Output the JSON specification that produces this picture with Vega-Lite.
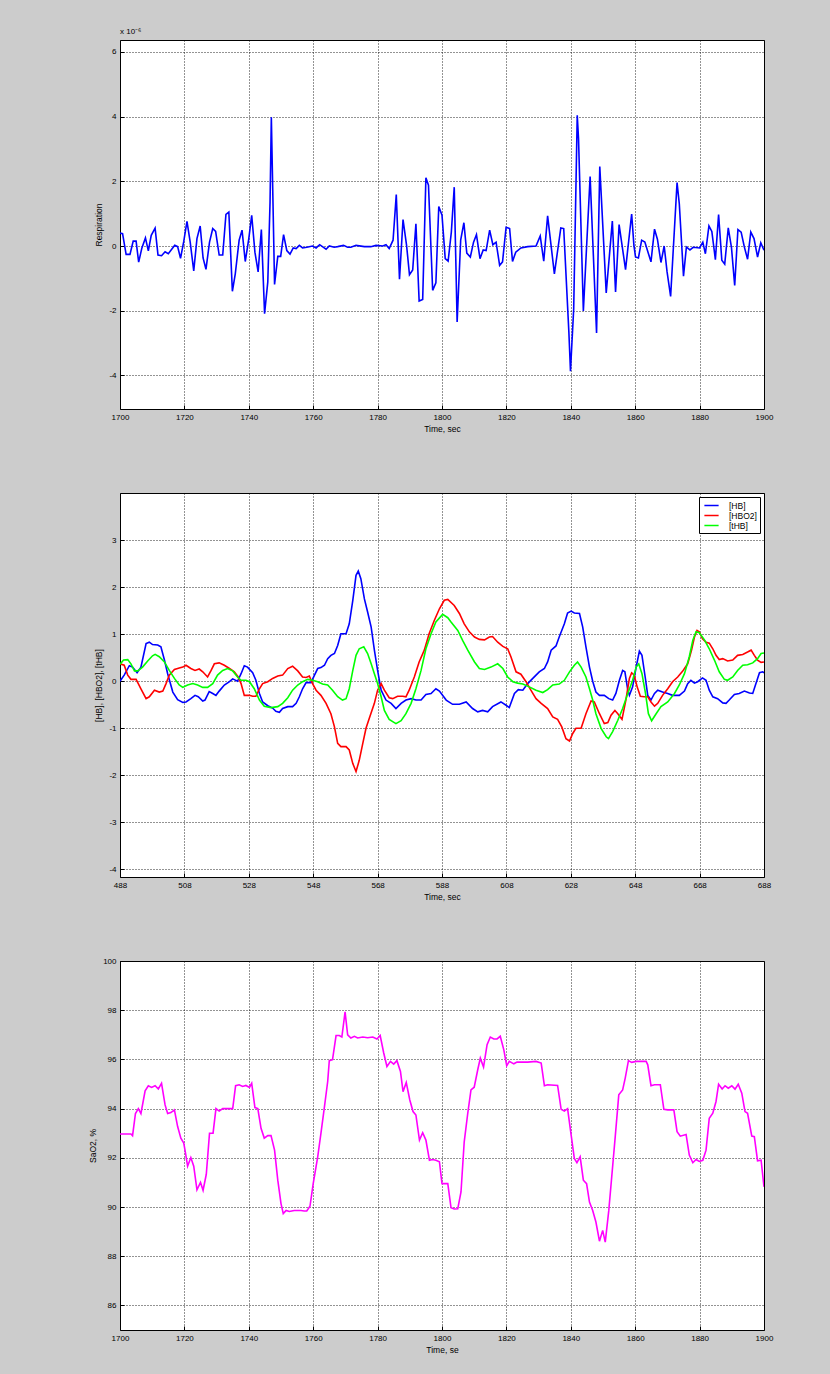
{
"$schema": "https://vega.github.io/schema/vega-lite/v6.json",
"background": "#cccccc",
"padding": {"left": 88, "top": 27, "right": 58, "bottom": 22},
"bounds": "flush",
"spacing": 84,
"resolve": {"scale": {"color": "independent"}, "legend": {"color": "independent"}},
"config": {
  "font": "Liberation Sans",
  "view": {"stroke": "#000000", "strokeWidth": 1, "fill": "#ffffff"},
  "axis": {"labelFont": "Liberation Sans", "labelFontSize": 8, "labelColor": "#000000", "titleFont": "Liberation Sans", "titleFontSize": 8.5, "titleFontWeight": "normal", "titleColor": "#000000", "grid": true, "gridColor": "#000000", "gridDash": [1, 2], "gridOpacity": 0.85, "domain": false, "ticks": true, "tickSize": -4, "tickColor": "#000000", "labelPadding": 8},
  "axisX": {"labelFlush": false, "titlePadding": 3},
  "axisY": {"titlePadding": 5},
  "legend": {"orient": "top-right", "offset": 4, "padding": 3, "strokeColor": "#000000", "fillColor": "#ffffff", "labelFont": "Liberation Sans", "labelFontSize": 8.5, "labelColor": "#000000", "symbolType": "M-1.5,0H1.5", "symbolSize": 90, "symbolStrokeWidth": 1.5, "symbolOffset": 4, "rowPadding": 0, "labelOffset": 12},
  "title": {"anchor": "start", "frame": "group", "fontSize": 8, "fontWeight": "normal", "font": "Liberation Sans", "color": "#000000", "offset": 4}
},
"datasets": {
  "resp": [
{"t":1700,"r":0.40},{"t":1700.8,"r":0.38},{"t":1701.9,"r":-0.26},{"t":1703.1,"r":-0.26},{"t":1704.1,"r":0.15},{"t":1705,"r":0.15},{"t":1705.8,"r":-0.5},{"t":1706.8,"r":-0.06},{"t":1707.9,"r":0.25},{"t":1708.8,"r":-0.15},{"t":1709.7,"r":0.33},{"t":1710.9,"r":0.55},{"t":1711.8,"r":-0.28},{"t":1712.9,"r":-0.3},{"t":1714,"r":-0.18},{"t":1715,"r":-0.24},{"t":1716,"r":-0.11},{"t":1717,"r":0.02},{"t":1717.9,"r":-0.02},{"t":1718.8,"r":-0.38},{"t":1719.8,"r":0.14},{"t":1720.8,"r":0.76},{"t":1721.8,"r":0.12},{"t":1722.9,"r":-0.77},{"t":1723.9,"r":0.23},{"t":1724.9,"r":0.62},{"t":1725.8,"r":-0.37},{"t":1726.7,"r":-0.72},{"t":1727.8,"r":0.12},{"t":1728.8,"r":0.54},{"t":1729.7,"r":0.45},{"t":1730.8,"r":-0.28},{"t":1731.9,"r":-0.28},{"t":1732.9,"r":0.98},{"t":1733.8,"r":1.05},{"t":1734.9,"r":-1.40},{"t":1735.8,"r":-0.86},{"t":1737,"r":0.18},{"t":1737.9,"r":0.49},{"t":1738.9,"r":-0.48},{"t":1740,"r":0.23},{"t":1740.9,"r":0.95},{"t":1741.9,"r":-0.19},{"t":1742.9,"r":-0.80},{"t":1743.9,"r":0.51},{"t":1744.9,"r":-2.09},{"t":1745.9,"r":-1.11},{"t":1746.6,"r":1.36},{"t":1747,"r":3.98},{"t":1748,"r":-1.19},{"t":1749,"r":-0.32},{"t":1749.9,"r":-0.32},{"t":1750.8,"r":0.35},{"t":1751.8,"r":-0.14},{"t":1752.8,"r":-0.25},{"t":1753.8,"r":-0.06},{"t":1754.7,"r":-0.08},{"t":1755.7,"r":0.02},{"t":1756.7,"r":-0.06},{"t":1758,"r":-0.04},{"t":1759.8,"r":0},{"t":1760.9,"r":-0.06},{"t":1762,"r":0.04},{"t":1764,"r":-0.10},{"t":1765,"r":0},{"t":1766.5,"r":-0.04},{"t":1767.6,"r":-0.02},{"t":1769.4,"r":0.02},{"t":1770.7,"r":-0.04},{"t":1771.7,"r":-0.04},{"t":1773.3,"r":0.02},{"t":1775.9,"r":-0.02},{"t":1777.9,"r":-0.02},{"t":1779.5,"r":0.02},{"t":1781.6,"r":0},{"t":1782.6,"r":0.04},{"t":1783.6,"r":-0.08},{"t":1784.8,"r":0.18},{"t":1785.8,"r":1.59},{"t":1786.8,"r":-1.03},{"t":1787.9,"r":0.82},{"t":1789,"r":0.02},{"t":1789.9,"r":-0.89},{"t":1790.9,"r":-0.74},{"t":1791.9,"r":0.69},{"t":1792.9,"r":-1.70},{"t":1794,"r":-1.65},{"t":1795,"r":2.11},{"t":1795.8,"r":1.88},{"t":1797.1,"r":-1.37},{"t":1798.1,"r":-1.14},{"t":1799,"r":1.22},{"t":1800,"r":0.95},{"t":1801,"r":-0.39},{"t":1801.9,"r":-0.47},{"t":1802.9,"r":0.43},{"t":1803.8,"r":1.82},{"t":1804.7,"r":-2.35},{"t":1805.8,"r":0.18},{"t":1806.8,"r":0.72},{"t":1807.7,"r":-0.22},{"t":1808.8,"r":-0.34},{"t":1809.8,"r":0.12},{"t":1810.7,"r":0.35},{"t":1811.8,"r":-0.39},{"t":1812.8,"r":-0.12},{"t":1813.7,"r":-0.14},{"t":1814.8,"r":0.49},{"t":1815.8,"r":0.04},{"t":1816.8,"r":0.12},{"t":1817.9,"r":-0.60},{"t":1818.8,"r":-0.49},{"t":1819.9,"r":0.58},{"t":1821,"r":0.54},{"t":1821.9,"r":-0.48},{"t":1822.9,"r":-0.19},{"t":1824.5,"r":-0.06},{"t":1826.6,"r":-0.02},{"t":1829.2,"r":0},{"t":1830.5,"r":0.31},{"t":1831.6,"r":-0.47},{"t":1832.8,"r":0.93},{"t":1834.9,"r":-0.86},{"t":1836.9,"r":0.56},{"t":1837.8,"r":0.54},{"t":1839.4,"r":-2.66},{"t":1839.9,"r":-3.87},{"t":1840.9,"r":-1.94},{"t":1842.0,"r":4.04},{"t":1842.4,"r":3.32},{"t":1843.9,"r":-2.01},{"t":1846.0,"r":2.15},{"t":1848.0,"r":-2.69},{"t":1849.0,"r":2.46},{"t":1851.0,"r":-1.45},{"t":1852.9,"r":0.77},{"t":1853.9,"r":-1.42},{"t":1855.0,"r":0.66},{"t":1857.0,"r":-0.73},{"t":1858.9,"r":0.99},{"t":1859.6,"r":0.02},{"t":1860.1,"r":-0.34},{"t":1861.0,"r":-0.37},{"t":1862.0,"r":0.18},{"t":1863.0,"r":0.12},{"t":1864.9,"r":-0.49},{"t":1866.0,"r":0.52},{"t":1866.9,"r":0.21},{"t":1868.0,"r":-0.51},{"t":1869.0,"r":0},{"t":1869.9,"r":-0.8},{"t":1871.0,"r":-1.56},{"t":1873.0,"r":1.96},{"t":1873.7,"r":1.3},{"t":1875.0,"r":-0.93},{"t":1875.9,"r":-0.03},{"t":1877.0,"r":-0.12},{"t":1878.0,"r":-0.04},{"t":1880.0,"r":-0.06},{"t":1881.0,"r":0.12},{"t":1881.8,"r":-0.24},{"t":1882.9,"r":0.62},{"t":1883.8,"r":0.45},{"t":1884.9,"r":-0.42},{"t":1885.9,"r":0.97},{"t":1886.9,"r":-0.44},{"t":1887.8,"r":-0.56},{"t":1888.9,"r":0.56},{"t":1889.9,"r":-0.05},{"t":1890.9,"r":-1.22},{"t":1891.9,"r":0.51},{"t":1892.9,"r":0.43},{"t":1893.9,"r":-0.03},{"t":1894.9,"r":-0.41},{"t":1895.9,"r":0.43},{"t":1896.9,"r":0.23},{"t":1898.0,"r":-0.34},{"t":1899.0,"r":0.1},{"t":1900.0,"r":-0.13}
  ],
  "hb": [
{"t":488,"v":0,"s":"[HB]"},{"t":489.3,"v":0.13,"s":"[HB]"},{"t":490.9,"v":0.33,"s":"[HB]"},{"t":491.9,"v":0.30,"s":"[HB]"},{"t":493.3,"v":0.18,"s":"[HB]"},{"t":494.5,"v":0.30,"s":"[HB]"},{"t":496.1,"v":0.80,"s":"[HB]"},{"t":497.1,"v":0.83,"s":"[HB]"},{"t":498.1,"v":0.78,"s":"[HB]"},{"t":499.7,"v":0.77,"s":"[HB]"},{"t":500.7,"v":0.73,"s":"[HB]"},{"t":501.8,"v":0.45,"s":"[HB]"},{"t":502.8,"v":0.16,"s":"[HB]"},{"t":504.4,"v":-0.23,"s":"[HB]"},{"t":505.9,"v":-0.39,"s":"[HB]"},{"t":507.5,"v":-0.45,"s":"[HB]"},{"t":508.5,"v":-0.44,"s":"[HB]"},{"t":510,"v":-0.37,"s":"[HB]"},{"t":511.3,"v":-0.30,"s":"[HB]"},{"t":512.3,"v":-0.33,"s":"[HB]"},{"t":513.7,"v":-0.42,"s":"[HB]"},{"t":514.4,"v":-0.40,"s":"[HB]"},{"t":515.7,"v":-0.22,"s":"[HB]"},{"t":516.8,"v":-0.26,"s":"[HB]"},{"t":517.8,"v":-0.30,"s":"[HB]"},{"t":518.8,"v":-0.21,"s":"[HB]"},{"t":520.4,"v":-0.08,"s":"[HB]"},{"t":522,"v":-0.01,"s":"[HB]"},{"t":523,"v":0.05,"s":"[HB]"},{"t":524.5,"v":0,"s":"[HB]"},{"t":525.6,"v":0.16,"s":"[HB]"},{"t":526.6,"v":0.33,"s":"[HB]"},{"t":527.6,"v":0.30,"s":"[HB]"},{"t":529.2,"v":0.18,"s":"[HB]"},{"t":530.2,"v":0.02,"s":"[HB]"},{"t":531.3,"v":-0.26,"s":"[HB]"},{"t":532.3,"v":-0.44,"s":"[HB]"},{"t":533.9,"v":-0.52,"s":"[HB]"},{"t":535.4,"v":-0.57,"s":"[HB]"},{"t":536.4,"v":-0.64,"s":"[HB]"},{"t":537.5,"v":-0.66,"s":"[HB]"},{"t":538.5,"v":-0.58,"s":"[HB]"},{"t":540.1,"v":-0.54,"s":"[HB]"},{"t":541.6,"v":-0.54,"s":"[HB]"},{"t":542.7,"v":-0.47,"s":"[HB]"},{"t":543.7,"v":-0.33,"s":"[HB]"},{"t":544.7,"v":-0.16,"s":"[HB]"},{"t":545.8,"v":-0.03,"s":"[HB]"},{"t":547.3,"v":-0.03,"s":"[HB]"},{"t":548.4,"v":0.13,"s":"[HB]"},{"t":549.4,"v":0.27,"s":"[HB]"},{"t":550.4,"v":0.29,"s":"[HB]"},{"t":551.5,"v":0.34,"s":"[HB]"},{"t":552.5,"v":0.48,"s":"[HB]"},{"t":553.5,"v":0.55,"s":"[HB]"},{"t":554.6,"v":0.59,"s":"[HB]"},{"t":555.6,"v":0.76,"s":"[HB]"},{"t":556.6,"v":1.01,"s":"[HB]"},{"t":558.2,"v":1.01,"s":"[HB]"},{"t":559.2,"v":1.22,"s":"[HB]"},{"t":560.3,"v":1.72,"s":"[HB]"},{"t":561.3,"v":2.25,"s":"[HB]"},{"t":562,"v":2.34,"s":"[HB]"},{"t":562.8,"v":2.18,"s":"[HB]"},{"t":563.9,"v":1.75,"s":"[HB]"},{"t":564.9,"v":1.47,"s":"[HB]"},{"t":566,"v":1.15,"s":"[HB]"},{"t":567,"v":0.66,"s":"[HB]"},{"t":568,"v":0.23,"s":"[HB]"},{"t":569.1,"v":-0.19,"s":"[HB]"},{"t":570.6,"v":-0.40,"s":"[HB]"},{"t":572.2,"v":-0.47,"s":"[HB]"},{"t":573.7,"v":-0.58,"s":"[HB]"},{"t":575.3,"v":-0.47,"s":"[HB]"},{"t":576.8,"v":-0.40,"s":"[HB]"},{"t":578.4,"v":-0.37,"s":"[HB]"},{"t":579.9,"v":-0.40,"s":"[HB]"},{"t":581.5,"v":-0.40,"s":"[HB]"},{"t":583,"v":-0.28,"s":"[HB]"},{"t":584.6,"v":-0.26,"s":"[HB]"},{"t":586.1,"v":-0.16,"s":"[HB]"},{"t":587.2,"v":-0.21,"s":"[HB]"},{"t":589.3,"v":-0.40,"s":"[HB]"},{"t":591.3,"v":-0.49,"s":"[HB]"},{"t":593.4,"v":-0.49,"s":"[HB]"},{"t":595.5,"v":-0.44,"s":"[HB]"},{"t":597.5,"v":-0.58,"s":"[HB]"},{"t":599.1,"v":-0.65,"s":"[HB]"},{"t":600.6,"v":-0.62,"s":"[HB]"},{"t":602.2,"v":-0.65,"s":"[HB]"},{"t":603.7,"v":-0.54,"s":"[HB]"},{"t":606.3,"v":-0.44,"s":"[HB]"},{"t":607.9,"v":-0.51,"s":"[HB]"},{"t":608.9,"v":-0.56,"s":"[HB]"},{"t":610.5,"v":-0.26,"s":"[HB]"},{"t":611.7,"v":-0.18,"s":"[HB]"},{"t":613.1,"v":-0.19,"s":"[HB]"},{"t":614.6,"v":-0.05,"s":"[HB]"},{"t":616.2,"v":0.06,"s":"[HB]"},{"t":618.2,"v":0.20,"s":"[HB]"},{"t":619.8,"v":0.27,"s":"[HB]"},{"t":620.8,"v":0.41,"s":"[HB]"},{"t":621.9,"v":0.66,"s":"[HB]"},{"t":623.4,"v":0.75,"s":"[HB]"},{"t":624.4,"v":0.94,"s":"[HB]"},{"t":626,"v":1.22,"s":"[HB]"},{"t":627,"v":1.45,"s":"[HB]"},{"t":628.1,"v":1.49,"s":"[HB]"},{"t":629.1,"v":1.45,"s":"[HB]"},{"t":630.7,"v":1.44,"s":"[HB]"},{"t":631.7,"v":1.15,"s":"[HB]"},{"t":632.7,"v":0.73,"s":"[HB]"},{"t":633.8,"v":0.30,"s":"[HB]"},{"t":634.8,"v":0,"s":"[HB]"},{"t":635.8,"v":-0.23,"s":"[HB]"},{"t":636.9,"v":-0.30,"s":"[HB]"},{"t":638.4,"v":-0.30,"s":"[HB]"},{"t":639.8,"v":-0.37,"s":"[HB]"},{"t":641,"v":-0.40,"s":"[HB]"},{"t":642,"v":-0.26,"s":"[HB]"},{"t":643.1,"v":0.02,"s":"[HB]"},{"t":644.1,"v":0.23,"s":"[HB]"},{"t":644.8,"v":0.20,"s":"[HB]"},{"t":645.7,"v":-0.19,"s":"[HB]"},{"t":646.2,"v":-0.30,"s":"[HB]"},{"t":647.2,"v":-0.12,"s":"[HB]"},{"t":648.3,"v":0.30,"s":"[HB]"},{"t":649.3,"v":0.64,"s":"[HB]"},{"t":650.1,"v":0.55,"s":"[HB]"},{"t":651.1,"v":0.09,"s":"[HB]"},{"t":651.9,"v":-0.30,"s":"[HB]"},{"t":652.9,"v":-0.40,"s":"[HB]"},{"t":654,"v":-0.26,"s":"[HB]"},{"t":655,"v":-0.19,"s":"[HB]"},{"t":656.5,"v":-0.23,"s":"[HB]"},{"t":658.1,"v":-0.26,"s":"[HB]"},{"t":659.6,"v":-0.30,"s":"[HB]"},{"t":661.7,"v":-0.30,"s":"[HB]"},{"t":663.3,"v":-0.21,"s":"[HB]"},{"t":664.3,"v":-0.05,"s":"[HB]"},{"t":665.3,"v":0.02,"s":"[HB]"},{"t":666.4,"v":-0.04,"s":"[HB]"},{"t":667.4,"v":-0.01,"s":"[HB]"},{"t":668.9,"v":0.07,"s":"[HB]"},{"t":670,"v":0.02,"s":"[HB]"},{"t":671,"v":-0.19,"s":"[HB]"},{"t":672.1,"v":-0.33,"s":"[HB]"},{"t":673.6,"v":-0.37,"s":"[HB]"},{"t":675.2,"v":-0.46,"s":"[HB]"},{"t":676.2,"v":-0.47,"s":"[HB]"},{"t":677.2,"v":-0.40,"s":"[HB]"},{"t":678.8,"v":-0.28,"s":"[HB]"},{"t":680.3,"v":-0.26,"s":"[HB]"},{"t":681.9,"v":-0.21,"s":"[HB]"},{"t":683.5,"v":-0.25,"s":"[HB]"},{"t":684.5,"v":-0.26,"s":"[HB]"},{"t":685.5,"v":-0.05,"s":"[HB]"},{"t":686.6,"v":0.18,"s":"[HB]"},{"t":687.6,"v":0.20,"s":"[HB]"},{"t":688,"v":0.18,"s":"[HB]"},
{"t":488,"v":0.37,"s":"[HBO2]"},{"t":489.3,"v":0.34,"s":"[HBO2]"},{"t":490.4,"v":0.13,"s":"[HBO2]"},{"t":491.4,"v":0.04,"s":"[HBO2]"},{"t":493,"v":0.04,"s":"[HBO2]"},{"t":494.5,"v":-0.16,"s":"[HBO2]"},{"t":496.1,"v":-0.37,"s":"[HBO2]"},{"t":497.1,"v":-0.33,"s":"[HBO2]"},{"t":498.7,"v":-0.19,"s":"[HBO2]"},{"t":500.2,"v":-0.23,"s":"[HBO2]"},{"t":501.3,"v":-0.21,"s":"[HBO2]"},{"t":502.3,"v":-0.05,"s":"[HBO2]"},{"t":503.3,"v":0.13,"s":"[HBO2]"},{"t":504.9,"v":0.25,"s":"[HBO2]"},{"t":506.4,"v":0.28,"s":"[HBO2]"},{"t":507.5,"v":0.30,"s":"[HBO2]"},{"t":508.5,"v":0.34,"s":"[HBO2]"},{"t":510,"v":0.27,"s":"[HBO2]"},{"t":511.3,"v":0.23,"s":"[HBO2]"},{"t":512.6,"v":0.26,"s":"[HBO2]"},{"t":513.7,"v":0.20,"s":"[HBO2]"},{"t":515.2,"v":0.09,"s":"[HBO2]"},{"t":516.3,"v":0.23,"s":"[HBO2]"},{"t":517.3,"v":0.37,"s":"[HBO2]"},{"t":518.8,"v":0.39,"s":"[HBO2]"},{"t":520.4,"v":0.34,"s":"[HBO2]"},{"t":522,"v":0.27,"s":"[HBO2]"},{"t":523.5,"v":0.20,"s":"[HBO2]"},{"t":524.7,"v":0.09,"s":"[HBO2]"},{"t":525.6,"v":-0.05,"s":"[HBO2]"},{"t":526.6,"v":-0.30,"s":"[HBO2]"},{"t":528.2,"v":-0.30,"s":"[HBO2]"},{"t":529.2,"v":-0.32,"s":"[HBO2]"},{"t":530.2,"v":-0.32,"s":"[HBO2]"},{"t":531.3,"v":-0.16,"s":"[HBO2]"},{"t":532.3,"v":-0.05,"s":"[HBO2]"},{"t":533.9,"v":-0.01,"s":"[HBO2]"},{"t":535.4,"v":0.06,"s":"[HBO2]"},{"t":537,"v":0.11,"s":"[HBO2]"},{"t":538.5,"v":0.13,"s":"[HBO2]"},{"t":540.1,"v":0.27,"s":"[HBO2]"},{"t":541.6,"v":0.32,"s":"[HBO2]"},{"t":543.2,"v":0.22,"s":"[HBO2]"},{"t":544.7,"v":0.09,"s":"[HBO2]"},{"t":545.8,"v":0.08,"s":"[HBO2]"},{"t":546.8,"v":0.11,"s":"[HBO2]"},{"t":547.8,"v":-0.05,"s":"[HBO2]"},{"t":548.9,"v":-0.19,"s":"[HBO2]"},{"t":550.4,"v":-0.30,"s":"[HBO2]"},{"t":552,"v":-0.47,"s":"[HBO2]"},{"t":553.5,"v":-0.69,"s":"[HBO2]"},{"t":554.6,"v":-0.97,"s":"[HBO2]"},{"t":555.6,"v":-1.32,"s":"[HBO2]"},{"t":556.6,"v":-1.39,"s":"[HBO2]"},{"t":558.2,"v":-1.39,"s":"[HBO2]"},{"t":559.2,"v":-1.46,"s":"[HBO2]"},{"t":560.3,"v":-1.75,"s":"[HBO2]"},{"t":561.3,"v":-1.92,"s":"[HBO2]"},{"t":562.3,"v":-1.68,"s":"[HBO2]"},{"t":563.4,"v":-1.32,"s":"[HBO2]"},{"t":564.4,"v":-1.00,"s":"[HBO2]"},{"t":565.4,"v":-0.79,"s":"[HBO2]"},{"t":567,"v":-0.47,"s":"[HBO2]"},{"t":568,"v":-0.19,"s":"[HBO2]"},{"t":569.1,"v":-0.05,"s":"[HBO2]"},{"t":570.1,"v":-0.19,"s":"[HBO2]"},{"t":571.6,"v":-0.35,"s":"[HBO2]"},{"t":572.7,"v":-0.37,"s":"[HBO2]"},{"t":574.2,"v":-0.32,"s":"[HBO2]"},{"t":575.8,"v":-0.32,"s":"[HBO2]"},{"t":576.8,"v":-0.33,"s":"[HBO2]"},{"t":577.8,"v":-0.19,"s":"[HBO2]"},{"t":579.4,"v":0.09,"s":"[HBO2]"},{"t":580.9,"v":0.41,"s":"[HBO2]"},{"t":582.5,"v":0.66,"s":"[HBO2]"},{"t":584,"v":1.01,"s":"[HBO2]"},{"t":585.6,"v":1.29,"s":"[HBO2]"},{"t":587.2,"v":1.54,"s":"[HBO2]"},{"t":588.7,"v":1.72,"s":"[HBO2]"},{"t":589.8,"v":1.74,"s":"[HBO2]"},{"t":591.8,"v":1.61,"s":"[HBO2]"},{"t":593.4,"v":1.44,"s":"[HBO2]"},{"t":594.9,"v":1.22,"s":"[HBO2]"},{"t":596.5,"v":1.05,"s":"[HBO2]"},{"t":598.1,"v":0.94,"s":"[HBO2]"},{"t":599.6,"v":0.89,"s":"[HBO2]"},{"t":601.2,"v":0.88,"s":"[HBO2]"},{"t":602.7,"v":0.94,"s":"[HBO2]"},{"t":603.7,"v":0.95,"s":"[HBO2]"},{"t":605.3,"v":0.83,"s":"[HBO2]"},{"t":606.9,"v":0.74,"s":"[HBO2]"},{"t":608.4,"v":0.69,"s":"[HBO2]"},{"t":609.4,"v":0.52,"s":"[HBO2]"},{"t":611,"v":0.20,"s":"[HBO2]"},{"t":612.5,"v":0.15,"s":"[HBO2]"},{"t":614.1,"v":-0.01,"s":"[HBO2]"},{"t":615.6,"v":-0.19,"s":"[HBO2]"},{"t":617.2,"v":-0.37,"s":"[HBO2]"},{"t":618.8,"v":-0.47,"s":"[HBO2]"},{"t":620.8,"v":-0.58,"s":"[HBO2]"},{"t":622.4,"v":-0.76,"s":"[HBO2]"},{"t":623.9,"v":-0.81,"s":"[HBO2]"},{"t":625.2,"v":-0.97,"s":"[HBO2]"},{"t":626.5,"v":-1.22,"s":"[HBO2]"},{"t":627.6,"v":-1.27,"s":"[HBO2]"},{"t":628.6,"v":-1.11,"s":"[HBO2]"},{"t":629.6,"v":-1.00,"s":"[HBO2]"},{"t":631.2,"v":-1.00,"s":"[HBO2]"},{"t":632.7,"v":-0.69,"s":"[HBO2]"},{"t":634.3,"v":-0.42,"s":"[HBO2]"},{"t":635.3,"v":-0.44,"s":"[HBO2]"},{"t":636.9,"v":-0.69,"s":"[HBO2]"},{"t":638.4,"v":-0.90,"s":"[HBO2]"},{"t":639.5,"v":-0.88,"s":"[HBO2]"},{"t":640.5,"v":-0.72,"s":"[HBO2]"},{"t":641.7,"v":-0.62,"s":"[HBO2]"},{"t":642.6,"v":-0.69,"s":"[HBO2]"},{"t":643.9,"v":-0.81,"s":"[HBO2]"},{"t":645.1,"v":-0.40,"s":"[HBO2]"},{"t":646.2,"v":0.06,"s":"[HBO2]"},{"t":646.9,"v":0.18,"s":"[HBO2]"},{"t":647.7,"v":0.13,"s":"[HBO2]"},{"t":648.6,"v":-0.12,"s":"[HBO2]"},{"t":649.6,"v":-0.32,"s":"[HBO2]"},{"t":650.8,"v":-0.33,"s":"[HBO2]"},{"t":651.9,"v":-0.33,"s":"[HBO2]"},{"t":652.9,"v":-0.44,"s":"[HBO2]"},{"t":654,"v":-0.53,"s":"[HBO2]"},{"t":655,"v":-0.47,"s":"[HBO2]"},{"t":656.5,"v":-0.30,"s":"[HBO2]"},{"t":658.1,"v":-0.16,"s":"[HBO2]"},{"t":659.6,"v":-0.01,"s":"[HBO2]"},{"t":661.2,"v":0.09,"s":"[HBO2]"},{"t":662.7,"v":0.21,"s":"[HBO2]"},{"t":664.3,"v":0.37,"s":"[HBO2]"},{"t":665.5,"v":0.66,"s":"[HBO2]"},{"t":666.4,"v":0.94,"s":"[HBO2]"},{"t":667.2,"v":1.08,"s":"[HBO2]"},{"t":667.9,"v":1.05,"s":"[HBO2]"},{"t":668.9,"v":0.90,"s":"[HBO2]"},{"t":670,"v":0.83,"s":"[HBO2]"},{"t":671,"v":0.81,"s":"[HBO2]"},{"t":672.1,"v":0.69,"s":"[HBO2]"},{"t":673.1,"v":0.55,"s":"[HBO2]"},{"t":674.1,"v":0.46,"s":"[HBO2]"},{"t":675.2,"v":0.48,"s":"[HBO2]"},{"t":676.7,"v":0.43,"s":"[HBO2]"},{"t":678.3,"v":0.45,"s":"[HBO2]"},{"t":679.8,"v":0.55,"s":"[HBO2]"},{"t":681.4,"v":0.57,"s":"[HBO2]"},{"t":682.9,"v":0.62,"s":"[HBO2]"},{"t":684,"v":0.66,"s":"[HBO2]"},{"t":685,"v":0.55,"s":"[HBO2]"},{"t":686,"v":0.45,"s":"[HBO2]"},{"t":687.1,"v":0.40,"s":"[HBO2]"},{"t":688,"v":0.41,"s":"[HBO2]"},
{"t":488,"v":0.36,"s":"[tHB]"},{"t":489.1,"v":0.45,"s":"[tHB]"},{"t":490.4,"v":0.46,"s":"[tHB]"},{"t":491.4,"v":0.37,"s":"[tHB]"},{"t":492.5,"v":0.22,"s":"[tHB]"},{"t":493.5,"v":0.22,"s":"[tHB]"},{"t":495,"v":0.30,"s":"[tHB]"},{"t":496.6,"v":0.43,"s":"[tHB]"},{"t":498.1,"v":0.54,"s":"[tHB]"},{"t":498.9,"v":0.57,"s":"[tHB]"},{"t":500.2,"v":0.52,"s":"[tHB]"},{"t":501.8,"v":0.41,"s":"[tHB]"},{"t":503.3,"v":0.23,"s":"[tHB]"},{"t":504.9,"v":0.06,"s":"[tHB]"},{"t":506.4,"v":-0.08,"s":"[tHB]"},{"t":507.5,"v":-0.13,"s":"[tHB]"},{"t":509,"v":-0.08,"s":"[tHB]"},{"t":510.6,"v":-0.05,"s":"[tHB]"},{"t":512.1,"v":-0.08,"s":"[tHB]"},{"t":513.7,"v":-0.13,"s":"[tHB]"},{"t":515.2,"v":-0.13,"s":"[tHB]"},{"t":516.8,"v":-0.05,"s":"[tHB]"},{"t":518.3,"v":0.13,"s":"[tHB]"},{"t":519.9,"v":0.23,"s":"[tHB]"},{"t":521.4,"v":0.27,"s":"[tHB]"},{"t":523,"v":0.22,"s":"[tHB]"},{"t":524.5,"v":0.09,"s":"[tHB]"},{"t":525.6,"v":0.02,"s":"[tHB]"},{"t":527.1,"v":0.02,"s":"[tHB]"},{"t":528.2,"v":-0.01,"s":"[tHB]"},{"t":529.7,"v":-0.16,"s":"[tHB]"},{"t":531.3,"v":-0.40,"s":"[tHB]"},{"t":532.8,"v":-0.53,"s":"[tHB]"},{"t":534.9,"v":-0.56,"s":"[tHB]"},{"t":537,"v":-0.54,"s":"[tHB]"},{"t":538.5,"v":-0.47,"s":"[tHB]"},{"t":540.1,"v":-0.35,"s":"[tHB]"},{"t":541.6,"v":-0.19,"s":"[tHB]"},{"t":543.2,"v":-0.08,"s":"[tHB]"},{"t":544.7,"v":-0.01,"s":"[tHB]"},{"t":546.3,"v":0.04,"s":"[tHB]"},{"t":547.8,"v":0.02,"s":"[tHB]"},{"t":549.4,"v":-0.01,"s":"[tHB]"},{"t":550.9,"v":-0.06,"s":"[tHB]"},{"t":552.5,"v":-0.08,"s":"[tHB]"},{"t":554,"v":-0.19,"s":"[tHB]"},{"t":555.6,"v":-0.33,"s":"[tHB]"},{"t":557.1,"v":-0.40,"s":"[tHB]"},{"t":558.2,"v":-0.37,"s":"[tHB]"},{"t":559.2,"v":-0.16,"s":"[tHB]"},{"t":560.3,"v":0.23,"s":"[tHB]"},{"t":561.3,"v":0.55,"s":"[tHB]"},{"t":562.3,"v":0.69,"s":"[tHB]"},{"t":563.7,"v":0.73,"s":"[tHB]"},{"t":564.9,"v":0.59,"s":"[tHB]"},{"t":566,"v":0.37,"s":"[tHB]"},{"t":567,"v":0.16,"s":"[tHB]"},{"t":568,"v":-0.05,"s":"[tHB]"},{"t":569.1,"v":-0.33,"s":"[tHB]"},{"t":570.1,"v":-0.62,"s":"[tHB]"},{"t":571.6,"v":-0.81,"s":"[tHB]"},{"t":573.7,"v":-0.90,"s":"[tHB]"},{"t":575.3,"v":-0.84,"s":"[tHB]"},{"t":576.8,"v":-0.69,"s":"[tHB]"},{"t":578.4,"v":-0.47,"s":"[tHB]"},{"t":579.9,"v":-0.16,"s":"[tHB]"},{"t":581.5,"v":0.23,"s":"[tHB]"},{"t":583,"v":0.69,"s":"[tHB]"},{"t":584.6,"v":1.01,"s":"[tHB]"},{"t":586.1,"v":1.26,"s":"[tHB]"},{"t":588.2,"v":1.42,"s":"[tHB]"},{"t":589.8,"v":1.35,"s":"[tHB]"},{"t":590.8,"v":1.26,"s":"[tHB]"},{"t":592.9,"v":1.08,"s":"[tHB]"},{"t":594.4,"v":0.87,"s":"[tHB]"},{"t":596,"v":0.66,"s":"[tHB]"},{"t":598.1,"v":0.41,"s":"[tHB]"},{"t":599.6,"v":0.27,"s":"[tHB]"},{"t":601.2,"v":0.25,"s":"[tHB]"},{"t":603.2,"v":0.30,"s":"[tHB]"},{"t":605.3,"v":0.37,"s":"[tHB]"},{"t":606.9,"v":0.27,"s":"[tHB]"},{"t":608.4,"v":0.09,"s":"[tHB]"},{"t":610,"v":-0.01,"s":"[tHB]"},{"t":611.5,"v":-0.04,"s":"[tHB]"},{"t":613.1,"v":-0.06,"s":"[tHB]"},{"t":615.1,"v":-0.12,"s":"[tHB]"},{"t":617.2,"v":-0.19,"s":"[tHB]"},{"t":619.3,"v":-0.24,"s":"[tHB]"},{"t":620.8,"v":-0.18,"s":"[tHB]"},{"t":622.4,"v":-0.08,"s":"[tHB]"},{"t":624.4,"v":-0.06,"s":"[tHB]"},{"t":626,"v":0.02,"s":"[tHB]"},{"t":627.6,"v":0.20,"s":"[tHB]"},{"t":629.1,"v":0.34,"s":"[tHB]"},{"t":630.1,"v":0.41,"s":"[tHB]"},{"t":631.2,"v":0.30,"s":"[tHB]"},{"t":632.7,"v":0.09,"s":"[tHB]"},{"t":633.8,"v":-0.16,"s":"[tHB]"},{"t":634.8,"v":-0.40,"s":"[tHB]"},{"t":635.8,"v":-0.69,"s":"[tHB]"},{"t":637.4,"v":-1.00,"s":"[tHB]"},{"t":639,"v":-1.18,"s":"[tHB]"},{"t":639.7,"v":-1.22,"s":"[tHB]"},{"t":641,"v":-1.07,"s":"[tHB]"},{"t":642.6,"v":-0.83,"s":"[tHB]"},{"t":644.1,"v":-0.58,"s":"[tHB]"},{"t":645.7,"v":-0.26,"s":"[tHB]"},{"t":647.2,"v":0.02,"s":"[tHB]"},{"t":648.3,"v":0.30,"s":"[tHB]"},{"t":649.1,"v":0.37,"s":"[tHB]"},{"t":650.1,"v":0.16,"s":"[tHB]"},{"t":651.2,"v":-0.26,"s":"[tHB]"},{"t":652.1,"v":-0.69,"s":"[tHB]"},{"t":653.1,"v":-0.84,"s":"[tHB]"},{"t":654.5,"v":-0.69,"s":"[tHB]"},{"t":656,"v":-0.54,"s":"[tHB]"},{"t":658.1,"v":-0.44,"s":"[tHB]"},{"t":660.2,"v":-0.26,"s":"[tHB]"},{"t":661.7,"v":-0.08,"s":"[tHB]"},{"t":663.3,"v":0.16,"s":"[tHB]"},{"t":664.8,"v":0.52,"s":"[tHB]"},{"t":665.9,"v":0.87,"s":"[tHB]"},{"t":666.9,"v":1.05,"s":"[tHB]"},{"t":667.9,"v":1.03,"s":"[tHB]"},{"t":669.5,"v":0.88,"s":"[tHB]"},{"t":671,"v":0.69,"s":"[tHB]"},{"t":672.6,"v":0.45,"s":"[tHB]"},{"t":674.1,"v":0.20,"s":"[tHB]"},{"t":675.7,"v":0.04,"s":"[tHB]"},{"t":676.7,"v":0.02,"s":"[tHB]"},{"t":678.3,"v":0.09,"s":"[tHB]"},{"t":679.8,"v":0.23,"s":"[tHB]"},{"t":681.4,"v":0.34,"s":"[tHB]"},{"t":682.9,"v":0.35,"s":"[tHB]"},{"t":684.5,"v":0.39,"s":"[tHB]"},{"t":686,"v":0.48,"s":"[tHB]"},{"t":687.1,"v":0.59,"s":"[tHB]"},{"t":688,"v":0.60,"s":"[tHB]"}
  ],
  "sao2": [
{"t":1700,"p":92.97},{"t":1703.4,"p":92.97},{"t":1703.9,"p":92.9},{"t":1704.8,"p":93.8},{"t":1705.7,"p":94.0},{"t":1706.5,"p":93.8},{"t":1707.8,"p":94.72},{"t":1708.8,"p":94.93},{"t":1709.8,"p":94.86},{"t":1710.9,"p":94.93},{"t":1711.9,"p":94.8},{"t":1712.9,"p":95.03},{"t":1714,"p":94.15},{"t":1714.8,"p":93.8},{"t":1715.8,"p":93.84},{"t":1716.9,"p":93.95},{"t":1717.9,"p":93.27},{"t":1718.9,"p":92.8},{"t":1719.8,"p":92.6},{"t":1720.2,"p":92.3},{"t":1721,"p":91.66},{"t":1722,"p":92.01},{"t":1722.9,"p":91.66},{"t":1723.9,"p":90.7},{"t":1725,"p":91.0},{"t":1725.8,"p":90.68},{"t":1726.8,"p":91.33},{"t":1727.8,"p":93.0},{"t":1728.9,"p":93.0},{"t":1729.8,"p":94.0},{"t":1730.8,"p":93.9},{"t":1731.9,"p":94.0},{"t":1735,"p":94.0},{"t":1735.9,"p":94.93},{"t":1737,"p":94.97},{"t":1738.1,"p":94.9},{"t":1739.1,"p":94.94},{"t":1740.2,"p":94.86},{"t":1740.9,"p":95.03},{"t":1741.9,"p":94.04},{"t":1742.8,"p":94.0},{"t":1743.8,"p":93.2},{"t":1744.8,"p":92.8},{"t":1745.9,"p":92.9},{"t":1746.9,"p":92.9},{"t":1748,"p":92.31},{"t":1749,"p":91.09},{"t":1750,"p":90.14},{"t":1750.7,"p":89.73},{"t":1751.6,"p":89.86},{"t":1752.6,"p":89.82},{"t":1754.1,"p":89.86},{"t":1756.2,"p":89.86},{"t":1757.2,"p":89.84},{"t":1758,"p":89.84},{"t":1759,"p":90.03},{"t":1760,"p":90.95},{"t":1761.4,"p":92.04},{"t":1762.4,"p":92.99},{"t":1763.5,"p":94.08},{"t":1764.5,"p":95.1},{"t":1765,"p":95.95},{"t":1766,"p":95.99},{"t":1767.1,"p":96.97},{"t":1768.1,"p":96.97},{"t":1768.9,"p":96.91},{"t":1769.9,"p":97.93},{"t":1770.7,"p":97.0},{"t":1771.7,"p":96.87},{"t":1772.8,"p":96.94},{"t":1773.8,"p":96.87},{"t":1775.4,"p":96.91},{"t":1776.9,"p":96.88},{"t":1778.5,"p":96.91},{"t":1779.8,"p":96.83},{"t":1780.8,"p":96.97},{"t":1781.9,"p":96.26},{"t":1782.9,"p":95.71},{"t":1784,"p":95.92},{"t":1785,"p":95.81},{"t":1786,"p":95.95},{"t":1787.1,"p":95.51},{"t":1787.9,"p":94.69},{"t":1788.9,"p":95.06},{"t":1790,"p":94.35},{"t":1791,"p":93.88},{"t":1791.9,"p":93.74},{"t":1793,"p":92.72},{"t":1794,"p":93.02},{"t":1795,"p":92.72},{"t":1796.1,"p":91.9},{"t":1797.1,"p":91.93},{"t":1798.1,"p":91.9},{"t":1799.2,"p":91.84},{"t":1800,"p":90.95},{"t":1801.8,"p":90.95},{"t":1802.8,"p":89.97},{"t":1803.8,"p":89.92},{"t":1804.9,"p":89.93},{"t":1805.9,"p":90.61},{"t":1806.9,"p":92.65},{"t":1808,"p":93.81},{"t":1809,"p":94.76},{"t":1810,"p":94.87},{"t":1811.1,"p":95.58},{"t":1811.9,"p":96.05},{"t":1812.9,"p":95.69},{"t":1814,"p":96.6},{"t":1815,"p":96.91},{"t":1816.1,"p":96.83},{"t":1817.1,"p":96.83},{"t":1818.1,"p":96.94},{"t":1819.2,"p":96.39},{"t":1820.1,"p":95.74},{"t":1820.9,"p":95.92},{"t":1822.3,"p":95.82},{"t":1823.3,"p":95.89},{"t":1826.6,"p":95.89},{"t":1829.2,"p":95.92},{"t":1830.8,"p":95.85},{"t":1831.8,"p":94.93},{"t":1832.8,"p":94.97},{"t":1835.9,"p":94.94},{"t":1837,"p":93.97},{"t":1838,"p":93.9},{"t":1839,"p":94.0},{"t":1840.1,"p":92.93},{"t":1841.1,"p":91.97},{"t":1841.9,"p":91.8},{"t":1842.9,"p":92.04},{"t":1843.9,"p":91.09},{"t":1844.9,"p":90.95},{"t":1845.8,"p":90.2},{"t":1846.8,"p":89.86},{"t":1847.8,"p":89.39},{"t":1848.9,"p":88.61},{"t":1849.9,"p":89.05},{"t":1850.7,"p":88.57},{"t":1851.8,"p":89.86},{"t":1852.8,"p":91.36},{"t":1853.8,"p":92.86},{"t":1854.9,"p":94.56},{"t":1856.1,"p":94.76},{"t":1856.9,"p":95.24},{"t":1857.9,"p":95.95},{"t":1858.9,"p":95.88},{"t":1860.3,"p":95.92},{"t":1863.4,"p":95.92},{"t":1863.9,"p":95.78},{"t":1864.9,"p":94.93},{"t":1866,"p":94.97},{"t":1867.8,"p":94.97},{"t":1868.9,"p":93.97},{"t":1870.1,"p":93.95},{"t":1872,"p":93.95},{"t":1873,"p":93.06},{"t":1874,"p":92.88},{"t":1875.8,"p":92.95},{"t":1876.8,"p":92.11},{"t":1877.9,"p":91.8},{"t":1878.9,"p":91.93},{"t":1879.9,"p":91.85},{"t":1881,"p":91.9},{"t":1882,"p":92.31},{"t":1883,"p":93.61},{"t":1884.1,"p":93.81},{"t":1885.1,"p":94.29},{"t":1885.9,"p":94.99},{"t":1887,"p":94.8},{"t":1887.9,"p":94.93},{"t":1888.9,"p":94.83},{"t":1890,"p":94.93},{"t":1891,"p":94.79},{"t":1892,"p":94.99},{"t":1893.1,"p":94.63},{"t":1894.1,"p":93.88},{"t":1894.9,"p":93.81},{"t":1896.2,"p":92.88},{"t":1897,"p":92.86},{"t":1898,"p":91.88},{"t":1899.1,"p":91.9},{"t":1900,"p":90.82}
  ]
},
"vconcat": [
  {
    "title": {"text": "x 10⁻⁶"},
    "width": 644,
    "height": 369,
    "data": {"name": "resp"},
    "mark": {"type": "line", "color": "#0000ff", "strokeWidth": 1.6, "clip": true},
    "encoding": {
      "x": {"field": "t", "type": "quantitative", "scale": {"domain": [1700, 1900], "nice": false, "zero": false}, "axis": {"title": "Time, sec", "values": [1700,1720,1740,1760,1780,1800,1820,1840,1860,1880,1900], "format": "d"}},
      "y": {"field": "r", "type": "quantitative", "scale": {"domain": [-5.04, 6.37], "nice": false, "zero": false}, "axis": {"title": "Respiration", "values": [-4,-2,0,2,4,6], "labelExpr": "datum.value < 0 ? '-' + abs(datum.value) : '' + datum.value"}}
    }
  },
  {
    "width": 644,
    "height": 384,
    "data": {"name": "hb"},
    "mark": {"type": "line", "strokeWidth": 1.6, "clip": true},
    "encoding": {
      "x": {"field": "t", "type": "quantitative", "scale": {"domain": [488, 688], "nice": false, "zero": false}, "axis": {"title": "Time, sec", "values": [488,508,528,548,568,588,608,628,648,668,688], "format": "d"}},
      "y": {"field": "v", "type": "quantitative", "scale": {"domain": [-4.16, 4], "nice": false, "zero": false}, "axis": {"title": "[HB], [HBO2], [tHB]", "values": [-4,-3,-2,-1,0,1,2,3], "labelExpr": "datum.value < 0 ? '-' + abs(datum.value) : '' + datum.value"}},
      "color": {"field": "s", "type": "nominal", "scale": {"domain": ["[HB]", "[HBO2]", "[tHB]"], "range": ["#0000ff", "#ff0000", "#00ff00"]}, "legend": {"title": null}}
    }
  },
  {
    "width": 644,
    "height": 369,
    "data": {"name": "sao2"},
    "mark": {"type": "line", "color": "#ff00ff", "strokeWidth": 1.6, "clip": true},
    "encoding": {
      "x": {"field": "t", "type": "quantitative", "scale": {"domain": [1700, 1900], "nice": false, "zero": false}, "axis": {"title": "Time, se", "values": [1700,1720,1740,1760,1780,1800,1820,1840,1860,1880,1900], "format": "d"}},
      "y": {"field": "p", "type": "quantitative", "scale": {"domain": [85, 100], "nice": false, "zero": false}, "axis": {"title": "SaO2, %", "values": [86,88,90,92,94,96,98,100], "format": "d"}}
    }
  }
]
}
